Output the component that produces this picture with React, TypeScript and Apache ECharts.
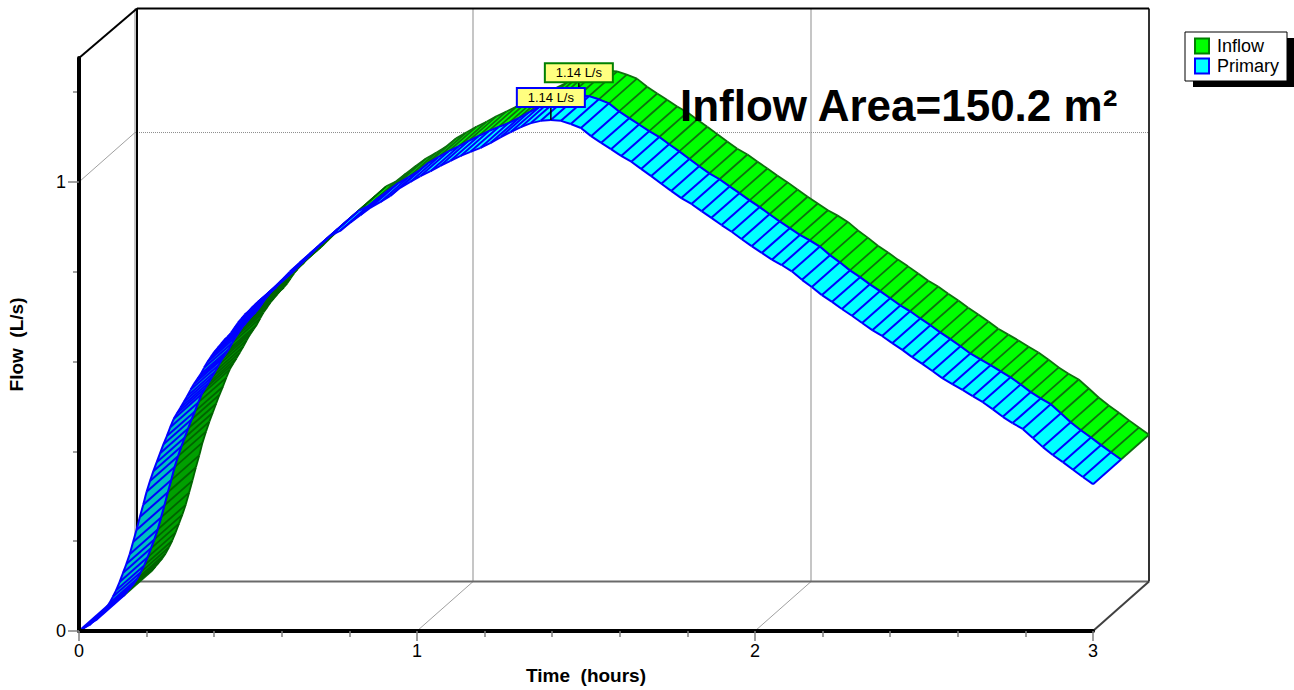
import React, { useEffect, useRef } from "react";
import * as echarts from "echarts";

const xTicks = [0, 1, 2, 3];
const yMajorTicks = [0, 1];
const yMinorTicks = [0.2, 0.4, 0.6, 0.8, 1.2];
const fineTimes = [
  0, 0.01, 0.02, 0.03, 0.04, 0.05, 0.06, 0.07, 0.08, 0.09, 0.1, 0.11, 0.12, 0.13, 0.14, 0.15, 0.16, 0.17, 0.18, 0.19,
  0.2, 0.21, 0.22, 0.23, 0.24, 0.25, 0.26, 0.27, 0.28, 0.29, 0.3, 0.31, 0.32, 0.33, 0.34, 0.35, 0.36, 0.37, 0.38,
  0.39, 0.4, 0.41, 0.42, 0.43, 0.44, 0.45, 0.46, 0.47, 0.48, 0.49, 0.5, 0.51, 0.52, 0.53, 0.54, 0.55, 0.56,
];
const coarseTimes = [
  0.594, 0.624, 0.653, 0.683, 0.713, 0.743, 0.772, 0.802, 0.832, 0.861, 0.891, 0.921, 0.95, 0.98, 1.01, 1.04, 1.069,
  1.099, 1.129, 1.158, 1.188, 1.218, 1.248, 1.277, 1.307, 1.337, 1.366, 1.396, 1.426, 1.455, 1.485, 1.515, 1.545,
  1.574, 1.604, 1.634, 1.663, 1.693, 1.723, 1.752, 1.782, 1.812, 1.842, 1.871, 1.901, 1.931, 1.96, 1.99, 2.02, 2.05,
  2.079, 2.109, 2.139, 2.168, 2.198, 2.228, 2.257, 2.287, 2.317, 2.347, 2.376, 2.406, 2.436, 2.465, 2.495, 2.525,
  2.554, 2.584, 2.614, 2.644, 2.673, 2.703, 2.733, 2.762, 2.792, 2.822, 2.851, 2.881, 2.911, 2.941, 2.97, 3,
];
const times = [...fineTimes, ...coarseTimes];
const primaryFlow = [
  0, 0.004, 0.009, 0.013, 0.02, 0.024, 0.033, 0.042, 0.051, 0.062, 0.076, 0.091, 0.109, 0.129, 0.149, 0.171, 0.198,
  0.225, 0.254, 0.281, 0.31, 0.334, 0.356, 0.376, 0.396, 0.416, 0.434, 0.454, 0.472, 0.485, 0.497, 0.51, 0.523, 0.537,
  0.55, 0.561, 0.572, 0.586, 0.599, 0.61, 0.621, 0.63, 0.639, 0.648, 0.655, 0.664, 0.675, 0.686, 0.695, 0.704, 0.71,
  0.719, 0.726, 0.733, 0.739, 0.745, 0.752,
  0.777, 0.8, 0.82, 0.84, 0.86, 0.88, 0.891, 0.909, 0.926, 0.942, 0.955, 0.969, 0.987, 1.0,
  1.013, 1.024, 1.036, 1.047, 1.058, 1.067, 1.076, 1.087, 1.1, 1.111, 1.122, 1.131, 1.136, 1.138, 1.136, 1.129,
  1.12, 1.102, 1.087, 1.073, 1.058, 1.045, 1.029, 1.013, 0.996, 0.98, 0.964, 0.951, 0.935, 0.92, 0.904, 0.889,
  0.873, 0.857, 0.842, 0.827, 0.815, 0.801, 0.782, 0.766, 0.748, 0.733, 0.717, 0.702, 0.686, 0.67, 0.657, 0.641,
  0.626, 0.61, 0.595, 0.579, 0.563, 0.55, 0.537, 0.523, 0.51, 0.494, 0.477, 0.463, 0.45, 0.43, 0.41, 0.392, 0.376,
  0.359, 0.343, 0.327,
];
const inflowFlow = [
  0, 0.004, 0.009, 0.013, 0.02, 0.024, 0.033, 0.042, 0.051, 0.062, 0.076, 0.091, 0.109, 0.129, 0.149, 0.171, 0.198,
  0.225, 0.254, 0.281, 0.31, 0.334, 0.356, 0.376, 0.396, 0.416, 0.434, 0.454, 0.472, 0.485, 0.497, 0.51, 0.523, 0.537,
  0.55, 0.561, 0.572, 0.586, 0.599, 0.61, 0.621, 0.63, 0.639, 0.648, 0.655, 0.664, 0.675, 0.686, 0.695, 0.704, 0.71,
  0.719, 0.726, 0.733, 0.739, 0.745, 0.752,
  0.777, 0.8, 0.82, 0.84, 0.86, 0.88, 0.891, 0.909, 0.926, 0.942, 0.955, 0.969, 0.987, 1.0,
  1.013, 1.024, 1.036, 1.047, 1.058, 1.067, 1.076, 1.087, 1.1, 1.111, 1.122, 1.131, 1.136, 1.138, 1.136, 1.129,
  1.12, 1.102, 1.087, 1.073, 1.058, 1.045, 1.029, 1.013, 0.996, 0.98, 0.964, 0.951, 0.935, 0.92, 0.904, 0.889,
  0.873, 0.857, 0.842, 0.827, 0.815, 0.801, 0.782, 0.766, 0.748, 0.733, 0.717, 0.702, 0.686, 0.67, 0.657, 0.641,
  0.626, 0.61, 0.595, 0.579, 0.563, 0.55, 0.537, 0.523, 0.51, 0.494, 0.477, 0.463, 0.45, 0.43, 0.41, 0.392, 0.376,
  0.359, 0.343, 0.327,
];
const peakLabel = "1.14 L/s";
const titleText = "Inflow Area=150.2 m²";

const DX = 28;
const DY = -24.7;
const FONT = "'Liberation Sans', Arial, sans-serif";
const Y_MAX = 1.276;

function points(values: number[]) {
  return values.map((v, i) => [times[i], v]);
}

function ribbon(
  values: number[],
  depth: number,
  fill: string,
  dark: string,
  stroke: string,
  darkStroke: string,
  lineWidth: number,
) {
  return (params: any, api: any) => {
    const i = params.dataIndex;
    const cur = api.coord([api.value(0), api.value(1)]);
    const x0 = cur[0] + DX * depth;
    const y0 = cur[1] + DY * depth;
    const x1 = x0 + DX;
    const y1 = y0 + DY;
    const children: any[] = [];
    let edge = stroke;
    if (i > 0) {
      const prev = api.coord([times[i - 1], values[i - 1]]);
      const px0 = prev[0] + DX * depth;
      const py0 = prev[1] + DY * depth;
      const sx = cur[0] - prev[0];
      const sy = cur[1] - prev[1];
      const back = sx * DY - sy * DX > 0;
      edge = back ? darkStroke : stroke;
      children.push({
        type: "polygon",
        z2: 1,
        shape: { points: [[px0, py0], [x0, y0], [x1, y1], [px0 + DX, py0 + DY]] },
        style: { fill: back ? dark : fill, stroke: "none" },
      });
      children.push({
        type: "line",
        z2: 5,
        shape: { x1: px0, y1: py0, x2: x0, y2: y0 },
        style: { stroke: edge, lineWidth },
      });
      children.push({
        type: "line",
        z2: 5,
        shape: { x1: px0 + DX, y1: py0 + DY, x2: x1, y2: y1 },
        style: { stroke: edge, lineWidth },
      });
    }
    children.push({
      type: "line",
      z2: 5,
      shape: { x1: x0, y1: y0, x2: x1, y2: y1 },
      style: { stroke: edge, lineWidth },
    });
    return { type: "group", children };
  };
}

function frame(_params: any, api: any) {
  const c = (x: number, y: number, d = 0, shift = 0) => {
    const p = api.coord([x, y]);
    return [p[0] + d * DX * 2 + shift, p[1] + d * DY * 2];
  };
  const seg = (a: number[], b: number[], stroke: string, lineWidth: number, dash?: number[]) => ({
    type: "line",
    shape: { x1: a[0], y1: a[1], x2: b[0], y2: b[1] },
    style: { stroke, lineWidth, lineDash: dash },
  });
  const grey = "#c6c6c6";
  const thin = "#a0a0a0";
  return {
    type: "group",
    children: [
      seg(c(1, 0, 1), c(1, Y_MAX, 1), grey, 2),
      seg(c(2, 0, 1), c(2, Y_MAX, 1), grey, 2),
      seg(c(0, 0, 1), c(0, Y_MAX, 1), grey, 2),
      seg(c(0, 1, 1), c(3, 1, 1), "#8c8c8c", 1, [1, 1]),
      seg(c(0, 1), c(0, 1, 1), thin, 1),
      seg(c(1, 0), c(1, 0, 1), thin, 1),
      seg(c(2, 0), c(2, 0, 1), thin, 1),
      seg(c(0, 0), c(0, 0, 1), thin, 1),
      seg(c(0, 0, 1), c(3, 0, 1), "#6a6a6a", 2),
      seg(c(3, 0), c(3, 0, 1), "#404040", 2),
      seg(c(3, 0, 1), c(3, Y_MAX, 1), "#333333", 2),
      seg(c(0, 0, 1, 2), c(0, Y_MAX, 1, 2), "#000000", 2),
      seg(c(0, Y_MAX, 1, 2), c(3, Y_MAX, 1), "#000000", 2),
      seg(c(0, Y_MAX), c(0, Y_MAX, 1, 2), "#000000", 2),
    ],
  };
}

function tag(depth: number, color: string, rise: number) {
  return (_params: any, api: any) => {
    const p = api.coord([api.value(0), api.value(1)]);
    const x = p[0] + DX * depth;
    const y = p[1] + DY * depth;
    const w = 68;
    const h = 19;
    const top = y - rise - h;
    return {
      type: "group",
      children: [
        { type: "line", shape: { x1: x, y1: y, x2: x, y2: top + h }, style: { stroke: "#000000", lineWidth: 1.5 } },
        {
          type: "rect",
          shape: { x: x - w / 2, y: top, width: w, height: h },
          style: { fill: "#ffff80", stroke: color, lineWidth: 2 },
        },
        {
          type: "text",
          x,
          y: top + h / 2,
          style: {
            text: peakLabel,
            fill: "#000000",
            font: `13px ${FONT}`,
            align: "center",
            verticalAlign: "middle",
          },
        },
      ],
    };
  };
}

function peakOf(values: number[]) {
  const m = Math.max(...values);
  const i = values.indexOf(m);
  return [[times[i], m]];
}

export default function App() {
  const ref = useRef<HTMLDivElement>(null);
  useEffect(() => {
    const chart = echarts.init(ref.current!, undefined, { renderer: "svg" });
    chart.setOption({
      animation: false,
      backgroundColor: "#ffffff",
      title: {
        text: titleText,
        left: 680,
        top: 83,
        padding: 0,
        z: 20,
        textStyle: { fontFamily: FONT, fontWeight: "bold", fontSize: 44, color: "#000000" },
      },
      grid: { left: 79, right: 201, top: 58, bottom: 59, outerBoundsMode: "none" },
      xAxis: {
        type: "value",
        min: 0,
        max: 3,
        interval: 1,
        name: "Time  (hours)",
        nameLocation: "middle",
        nameGap: 35,
        nameTextStyle: { fontFamily: FONT, fontWeight: "bold", fontSize: 19, color: "#000000" },
        axisLine: { show: true, lineStyle: { color: "#000000", width: 4 } },
        axisTick: { show: true, length: 10, lineStyle: { color: "#808080", width: 1.5 } },
        minorTick: { show: true, splitNumber: 5, length: 6, lineStyle: { color: "#808080", width: 1.5 } },
        axisLabel: { margin: 11, fontFamily: FONT, fontSize: 18, color: "#000000", customValues: xTicks },
        splitLine: { show: false },
        z: 6,
      },
      yAxis: [
        {
          type: "value",
          min: 0,
          max: Y_MAX,
          name: "Flow  (L/s)",
          nameLocation: "middle",
          nameGap: 53,
          nameTextStyle: { fontFamily: FONT, fontWeight: "bold", fontSize: 19, color: "#000000" },
          axisLine: { show: true, lineStyle: { color: "#000000", width: 4 } },
          axisTick: { show: true, length: 11, customValues: yMajorTicks, lineStyle: { color: "#808080", width: 1.5 } },
          axisLabel: { margin: 13, fontFamily: FONT, fontSize: 18, color: "#000000", customValues: yMajorTicks, formatter: "{value}" },
          splitLine: { show: false },
          z: 6,
        },
        {
          type: "value",
          min: 0,
          max: Y_MAX,
          position: "left",
          axisLine: { show: false },
          axisTick: { show: true, length: 6, customValues: yMinorTicks, lineStyle: { color: "#808080", width: 1.5 } },
          axisLabel: { show: false },
          splitLine: { show: false },
        },
      ],
      legend: {
        orient: "vertical",
        left: 1194,
        top: 36,
        padding: 0,
        itemWidth: 14,
        itemHeight: 15,
        itemGap: 0,
        selectedMode: false,
        z: 12,
        textStyle: { fontFamily: FONT, fontSize: 18, lineHeight: 20, color: "#000000", padding: [0, 0, 0, 3] },
        data: [
          { name: "Inflow", icon: "rect", itemStyle: { color: "#00ff00", borderColor: "#008000", borderWidth: 2 } },
          { name: "Primary", icon: "rect", itemStyle: { color: "#00ffff", borderColor: "#0000ff", borderWidth: 2 } },
        ],
      },
      graphic: [
        { type: "rect", z: 8, shape: { x: 1193, y: 38, width: 101, height: 49 }, style: { fill: "#000000" } },
        {
          type: "rect",
          z: 9,
          shape: { x: 1185, y: 32, width: 102, height: 49 },
          style: { fill: "#ffffff", stroke: "#000000", lineWidth: 1 },
        },
      ],
      series: [
        {
          name: "frame",
          type: "custom",
          coordinateSystem: "cartesian2d",
          clip: false,
          z: 1,
          renderItem: frame,
          encode: { x: 0, y: 1 },
          data: [[0, 0]],
          silent: true,
        },
        {
          name: "Inflow",
          type: "custom",
          coordinateSystem: "cartesian2d",
          clip: false,
          z: 3,
          itemStyle: { color: "#00ff00" },
          renderItem: ribbon(inflowFlow, 1, "#00ff00", "#00a000", "#0e700e", "#006400", 1.8),
          encode: { x: 0, y: 1 },
          data: points(inflowFlow),
        },
        {
          name: "Primary",
          type: "custom",
          coordinateSystem: "cartesian2d",
          clip: false,
          z: 4,
          itemStyle: { color: "#00ffff" },
          renderItem: ribbon(primaryFlow, 0, "#00ffff", "#00c0c0", "#0000ff", "#0000ff", 2),
          encode: { x: 0, y: 1 },
          data: points(primaryFlow),
        },
        {
          name: "Inflow peak",
          type: "custom",
          coordinateSystem: "cartesian2d",
          clip: false,
          z: 5,
          renderItem: tag(1, "#008000", 13),
          encode: { x: 0, y: 1 },
          data: peakOf(inflowFlow),
        },
        {
          name: "Primary peak",
          type: "custom",
          coordinateSystem: "cartesian2d",
          clip: false,
          z: 5,
          renderItem: tag(0, "#0000ff", 13),
          encode: { x: 0, y: 1 },
          data: peakOf(primaryFlow),
        },
      ],
    });
    return () => chart.dispose();
  }, []);
  return <div ref={ref} style={{ position: "absolute", left: 0, top: 0, width: 1294, height: 690 }} />;
}
